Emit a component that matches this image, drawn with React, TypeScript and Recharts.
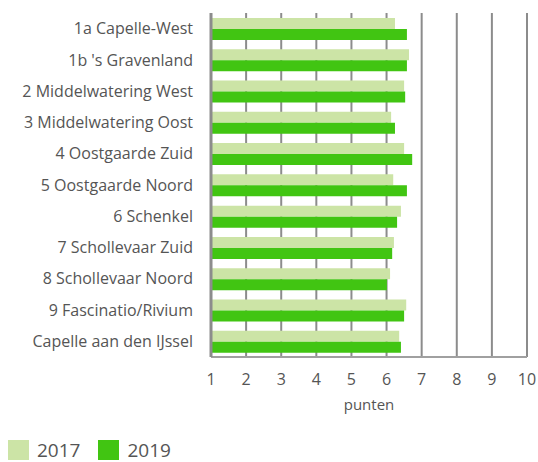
import { Bar, BarChart, CartesianGrid, Legend, XAxis, YAxis } from 'recharts';

const wijken = [
  '1a Capelle-West',
  "1b 's Gravenland",
  '2 Middelwatering West',
  '3 Middelwatering Oost',
  '4 Oostgaarde Zuid',
  '5 Oostgaarde Noord',
  '6 Schenkel',
  '7 Schollevaar Zuid',
  '8 Schollevaar Noord',
  '9 Fascinatio/Rivium',
  'Capelle aan den IJssel',
];

const scores2017 = [6.24, 6.64, 6.5, 6.13, 6.5, 6.19, 6.41, 6.21, 6.1, 6.56, 6.36];
const scores2019 = [6.58, 6.58, 6.53, 6.24, 6.73, 6.58, 6.3, 6.16, 6.01, 6.5, 6.41];

const xTicks = [1, 2, 3, 4, 5, 6, 7, 8, 9, 10];

const LIGHT = '#cce4a6';
const DARK = '#41c512';
const GRID = '#8c8c8c';
const TEXT = '#555555';

const data = wijken.map((name, i) => ({
  name,
  y2017: scores2017[i],
  y2019: scores2019[i],
}));

const legendItems = [
  { label: '2017', color: LIGHT },
  { label: '2019', color: DARK },
];

function ChartLegend() {
  return (
    <div style={{ display: 'flex', alignItems: 'center', height: 20, paddingLeft: 8 }}>
      {legendItems.map((item) => (
        <div key={item.label} style={{ display: 'flex', alignItems: 'center', marginRight: 18, height: 20 }}>
          <span style={{ width: 21, height: 20, background: item.color, display: 'inline-block', marginRight: 8 }} />
          <span style={{ fontSize: 19, color: TEXT, lineHeight: '20px' }}>{item.label}</span>
        </div>
      ))}
    </div>
  );
}

export default function App() {
  return (
    <div style={{ position: 'absolute', left: 0, top: 0, fontFamily: '"Open Sans", sans-serif' }}>
      <BarChart
        width={538}
        height={462}
        data={data}
        layout="vertical"
        margin={{ top: 13, right: 11, bottom: 2, left: 0 }}
        barCategoryGap="16%"
        barGap={0}
      >
        <CartesianGrid horizontal={false} stroke={GRID} strokeWidth={2} />
        <XAxis
          type="number"
          domain={[1, 10]}
          ticks={xTicks}
          interval={0}
          height={83}
          tickLine={false}
          tickMargin={11}
          axisLine={{ stroke: '#a0a0a0', strokeWidth: 2 }}
          tick={{ fill: TEXT, fontSize: 16 }}
          label={{ value: 'punten', position: 'insideTop', offset: 42, fill: TEXT, fontSize: 15 }}
        />
        <XAxis
          xAxisId="top"
          orientation="top"
          type="number"
          domain={[1, 10]}
          height={0}
          tick={false}
          tickLine={false}
          axisLine={{ stroke: '#b0b0b0', strokeWidth: 2 }}
        />
        <YAxis
          type="category"
          dataKey="name"
          width={211}
          interval={0}
          tickLine={false}
          tickMargin={12}
          axisLine={{ stroke: GRID, strokeWidth: 3 }}
          tick={{ fill: TEXT, fontSize: 16 }}
        />
        <Legend verticalAlign="bottom" align="left" content={<ChartLegend />} />
        <Bar dataKey="y2017" name="2017" fill={LIGHT} isAnimationActive={false} />
        <Bar dataKey="y2019" name="2019" fill={DARK} isAnimationActive={false} />
      </BarChart>
    </div>
  );
}
